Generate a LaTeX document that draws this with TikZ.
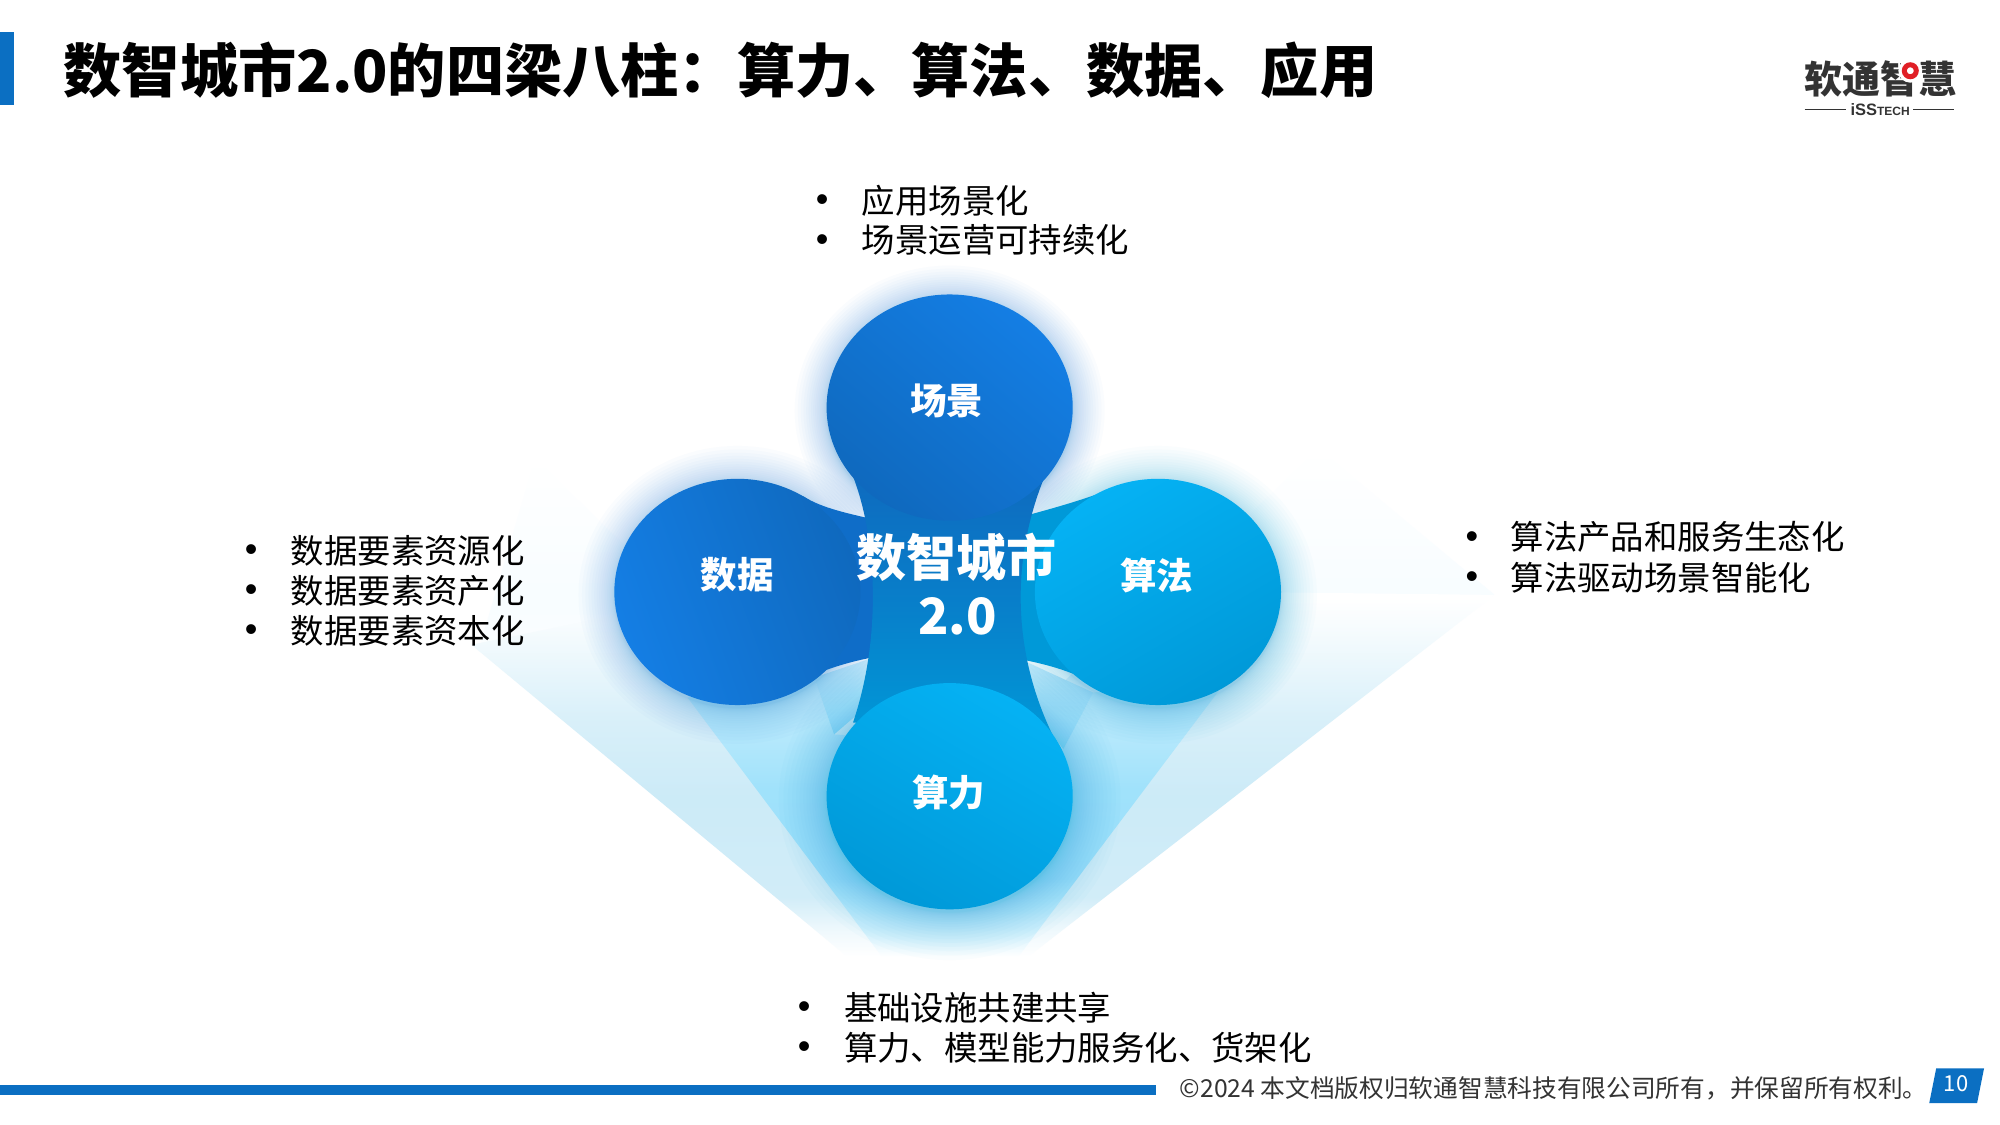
\documentclass[tikz,border=0pt]{standalone}
\usepackage{fontspec}
\setmainfont{Noto Sans CJK SC}
\newfontfamily\latinbold{Liberation Sans}
\usetikzlibrary{calc}
\definecolor{brandblue}{HTML}{0B6FC2}
\definecolor{deepblue}{HTML}{0F6DC8}
\definecolor{deepbluehi}{HTML}{147EE4}
\definecolor{deepbluelo}{HTML}{0F69BE}
\definecolor{cyanhi}{HTML}{05B2F4}
\definecolor{cyanlo}{HTML}{0099D8}
\definecolor{inkdark}{HTML}{333333}
\definecolor{logored}{HTML}{E01F26}
\pgfdeclareverticalshading{outerfan}{100bp}{color(0bp)=(white);color(25bp)=(white);color(28.4bp)=(white!94!cyanlo);color(33.2bp)=(white!82!cyanlo);color(46.8bp)=(white!80!cyanlo);color(57.7bp)=(white!85!cyanlo);color(67bp)=(white!94!cyanlo);color(74bp)=(white);color(100bp)=(white)}
\pgfdeclareverticalshading{innerfan}{100bp}{color(0bp)=(white);color(25bp)=(white);color(30.3bp)=(white!80!cyanhi);color(39bp)=(white!60!cyanhi);color(55bp)=(white!62!cyanhi);color(71bp)=(white!76!cyanhi);color(100bp)=(white!76!cyanhi)}
\pgfdeclareverticalshading{faintfan}{100bp}{color(0bp)=(white);color(25bp)=(white);color(45bp)=(white!97!cyanhi);color(75bp)=(white);color(100bp)=(white)}
\pgfdeclareverticalshading{neckfan}{100bp}{color(0bp)=(white!55!cyanhi);color(25bp)=(white!55!cyanhi);color(75bp)=(white!82!cyanhi);color(100bp)=(white!82!cyanhi)}
\tikzset{
  x=0.9965pt,y=-0.9965pt,
  every node/.style={inner sep=0pt,outer sep=0pt},
  lobe dark/.style={shade,bottom color=deepbluelo,top color=deepbluehi},
  lobe cyan/.style={shade,bottom color=cyanlo,top color=cyanhi},
  lobelabel/.style={text=white,font=\fontsize{36.5}{40}\selectfont\bfseries},
  centerlabel/.style={text=white,font=\fontsize{50}{54}\selectfont\bfseries},
  bodyline/.style={anchor=west,text=black,font=\fontsize{33.4}{38}\selectfont},
  bulletmark/.style={text=black,yshift=-2.5pt,font=\latinbold\fontsize{36}{30}\selectfont},
  footerline/.style={anchor=west,text=inkdark,font=\fontsize{24.7}{28}\selectfont},
}
\newcommand{\glowring}[4]{%
  \foreach \g in {1,...,20}{
    \fill[#4,opacity=0.019] (#1,#2+3) ellipse[x radius=123.5+\g*\g/400*#3,y radius=113.5+\g*\g/400*#3];
  }}
\begin{document}
\begin{tikzpicture}
\useasboundingbox (0,0) rectangle (2007.03,1128.95);
\fill[white] (0,0) rectangle (2007.03,1128.95);

% faint upward extensions of the beams
\shade[shading=faintfan] (537,460) -- (640,560) -- (640,700) -- (480,653) -- cycle;
\shade[shading=faintfan] (1323,450) -- (1240,530) -- (1240,700) -- (1500,597) -- cycle;

% light beams
\shade[shading=outerfan] (473,647) -- (850,960) -- (1032,960) -- (1500,597) -- (1161,593) -- (951,798) -- (738,593) -- cycle;
\shade[shading=innerfan] (690,700) -- (885,960) -- (1022,960) -- (1233,680) -- (1097,695) -- (1067,752) -- (837,737) -- (817,680) -- cycle;
\shade[shading=neckfan] (817,680) -- (837,737) -- (880,700) -- (876,660) -- cycle;
\shade[shading=neckfan] (1097,695) -- (1067,752) -- (1030,700) -- (1025,662) -- cycle;

% glows
\glowring{953}{409}{32}{deepbluehi}
\glowring{740}{594}{36}{deepbluehi}
\glowring{1162}{594}{36}{cyanlo}
\glowring{953}{799}{48}{cyanlo}

% arms
\fill[deepblue] (806,498) .. controls (825,510) and (850,515) .. (880,522) -- (950,522) -- (950,658) -- (885,658) .. controls (855,663) and (833,670) .. (810,680) -- cycle;
\fill[cyanlo] (1098,497) .. controls (1075,505) and (1050,512) .. (1020,520) -- (950,522) -- (950,658) -- (1015,660) .. controls (1045,665) and (1070,672) .. (1090,682) -- cycle;
\shade[top color=deepbluelo,bottom color=cyanlo,middle color=cyanlo!45!deepbluelo] (856,478) .. controls (880,540) and (885,640) .. (856,725) -- (1059,743) .. controls (1012,650) and (1015,550) .. (1054,465) -- cycle;

% lobes
\path[lobe dark,shading angle=-40] (953,409) ellipse[x radius=123.5,y radius=113.5];
\path[lobe dark,shading angle=110] (740,594) ellipse[x radius=123.5,y radius=113.5];
\path[lobe cyan,shading angle=30] (1162,594) ellipse[x radius=123.5,y radius=113.5];
\path[lobe cyan,shading angle=-30] (953,799) ellipse[x radius=123.5,y radius=113.5];

\node[lobelabel] (scene) at (950,402) {场景};
\node[lobelabel] (data) at (740,577) {数据};
\node[lobelabel] (algo) at (1161,577) {算法};
\node[lobelabel] (power) at (952,795) {算力};
\node[centerlabel] (hub1) at (960,559) {数智城市};
\node[centerlabel] (hub2) at (961,619) {2.0};

% header
\fill[brandblue] (0,32) rectangle (14,105);
\node[anchor=west,text=black,font=\fontsize{58.2}{62}\selectfont\bfseries] (title) at (64,71) {数智城市2.0的四梁八柱：算力、算法、数据、应用};

% logo
\node[text=inkdark,font=\fontsize{38}{40}\selectfont\bfseries] (logotext) at (1887,79) {软通智慧};
\fill[white] (1917,71) circle[radius=12];
\draw[logored,line width=5pt] (1917,71) circle[radius=6];
\node[anchor=base west,text=inkdark,font=\latinbold\fontsize{16.5}{20}\selectfont\bfseries] (logosub) at (1857,116) {iSS{\fontsize{12}{16}\selectfont TECH}};
\coordinate (ruleAa) at (1811,110);
\coordinate (ruleAb) at (1852,110);
\coordinate (ruleBa) at (1920,110);
\coordinate (ruleBb) at (1961,110);
\draw[inkdark,line width=1pt] (ruleAa) -- (ruleAb);
\draw[inkdark,line width=1pt] (ruleBa) -- (ruleBb);

% bullets
\node[bulletmark] (bt1) at (825,201) {•};
\node[bodyline] (tt1) at (865,201) {应用场景化};
\node[bulletmark] (bt2) at (825,241) {•};
\node[bodyline] (tt2) at (865,241) {场景运营可持续化};

\node[bulletmark] (bl1) at (252,553) {•};
\node[bodyline] (tl1) at (292,553) {数据要素资源化};
\node[bulletmark] (bl2) at (252,593) {•};
\node[bodyline] (tl2) at (292,593) {数据要素资产化};
\node[bulletmark] (bl3) at (252,633) {•};
\node[bodyline] (tl3) at (292,633) {数据要素资本化};

\node[bulletmark] (br1) at (1477,539) {•};
\node[bodyline] (tr1) at (1516,539) {算法产品和服务生态化};
\node[bulletmark] (br2) at (1477,580) {•};
\node[bodyline] (tr2) at (1516,580) {算法驱动场景智能化};

\node[bulletmark] (bb1) at (807,1011) {•};
\node[bodyline] (tb1) at (847,1011) {基础设施共建共享};
\node[bulletmark] (bb2) at (807,1051) {•};
\node[bodyline] (tb2) at (847,1051) {算力、模型能力服务化、货架化};

% footer
\fill[brandblue] (0,1089) rectangle (1160,1099);
\node[footerline] (copy) at (1184,1092) {©2024 本文档版权归软通智慧科技有限公司所有，并保留所有权利。};
\fill[brandblue] (1943,1072) -- (1991,1072) -- (1984,1107) -- (1936,1107) -- cycle;
\node[text=white,font=\fontsize{22}{26}\selectfont] (pageno) at (1963,1087) {10};
\end{tikzpicture}
\end{document}
